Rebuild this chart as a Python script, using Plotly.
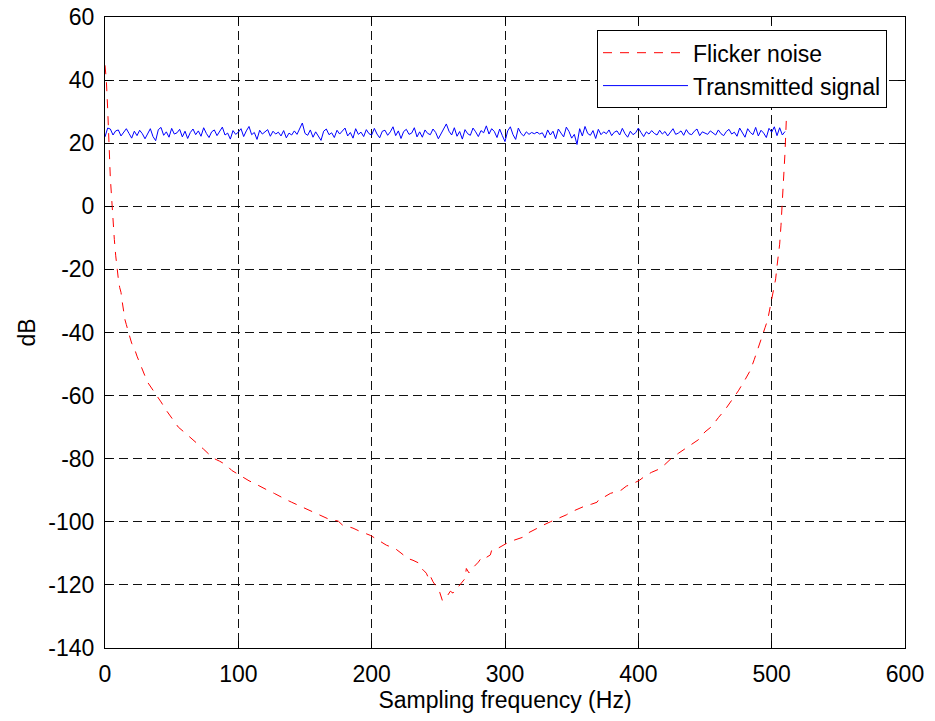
import plotly.graph_objects as go

# ---- Data ----
flicker_freq = [0, 1, 2, 3, 4, 5, 6, 7, 8, 9, 10, 11, 12, 13, 14, 15, 16, 17, 18, 20,
                22, 24, 26, 28, 30, 32, 35, 38, 42, 46, 50, 55, 60, 65, 70, 74, 78, 82, 86, 91,
                95, 100, 104, 108, 112, 117, 122, 127, 132, 136, 140, 145, 150, 154, 158, 162, 167, 171, 175, 178,
                182, 186, 190, 194, 199, 203, 207, 211, 214, 218, 222, 227, 231, 235, 237, 239, 241, 243, 244, 246,
                248, 251, 253, 255, 257, 259, 261, 263, 265, 268, 270, 271, 273, 274, 277, 280, 283, 286, 289, 290,
                293, 296, 299, 303, 307, 310, 314, 318, 321, 325, 329, 334, 338, 342, 346, 349, 353, 356, 361, 365,
                369, 371, 375, 379, 383, 387, 391, 396, 401, 405, 410, 415, 420, 425, 430, 435, 440, 445, 450, 455,
                460, 465, 470, 475, 480, 484, 487, 490, 493, 495, 497, 499, 500, 501, 502, 503, 504, 505, 506, 507,
                508, 509, 510, 511]
flicker_db = [44.7, 40, 31, 19, 9, 2.5, -5, -10.5, -15.5, -20, -23, -25.7, -27.3, -30.5, -34, -36, -37.5, -39.3, -40.5, -43.4,
              -45, -47.5, -49.8, -51.5, -53.8, -55.8, -57.6, -59.5, -62, -64.7, -67, -70, -71.8, -73.6, -75.6, -77, -78.6, -80, -80.8, -82,
              -83.7, -85, -86.2, -87, -87.8, -89, -90, -91, -92.2, -93, -93.8, -94.8, -95.6, -96.4, -97.2, -98, -99, -99.4, -99.8, -101,
              -101.4, -102, -102.8, -103.5, -104.3, -105.3, -106.4, -107.4, -107.9, -108.6, -109.9, -111.6, -112.2, -113, -114.8, -115.4, -116.3, -118.2, -117.2, -119,
              -120.2, -122.3, -124.9, -123.6, -123.3, -122, -122.6, -121, -120.6, -119.2, -118, -114.8, -116.2, -115.4, -114.2, -112.8, -111, -111.3, -110.5, -109,
              -108.8, -108, -107.2, -106.4, -105.8, -105.3, -104.8, -103.4, -102.7, -101.7, -101, -100, -99.3, -98.5, -97.8, -97, -96.3, -95.7, -94.8, -94.4,
              -93.8, -92.6, -92, -91, -90.5, -90, -88.7, -87.9, -86.8, -85.5, -84.3, -83.4, -81.8, -79.8, -78.3, -76.8, -75.3, -74, -71.5, -69.8,
              -67, -64.5, -61.5, -58.5, -55, -52, -48.5, -44.5, -41, -38.5, -36, -32, -29.5, -27.5, -25.5, -23, -19, -16, -12, -6,
              1, 9, 17, 27.5]

signal_freq = list(range(0, 512, 2))
signal_db = [
    22.0, 24.8, 24.5, 22.6, 23.9, 24.2, 22.3, 23.5, 24.6, 23.1, 21.6, 23.8, 22.4, 24.1, 23.0, 21.4,
    22.8, 24.6, 22.1, 20.8, 24.3, 25.0, 22.5, 23.6, 21.9, 24.7, 22.9, 23.3, 24.4, 22.0, 23.8, 21.5,
    23.4, 24.5, 22.7, 23.9, 22.2, 24.9, 23.1, 21.8, 23.6, 24.2, 22.4, 23.7, 25.1, 22.6, 23.2, 21.3,
    24.0, 22.8, 23.5, 24.6, 22.1, 23.9, 25.3, 22.7, 23.4, 21.2, 24.1, 22.9, 23.6, 24.3, 22.2, 23.8,
    22.9, 23.5, 22.3, 24.0, 21.7, 23.2, 22.6, 23.9, 22.8, 24.4, 26.4, 23.1, 22.5, 24.2, 21.9, 23.6,
    22.4, 20.9, 23.8, 24.5, 22.7, 23.3, 21.8, 24.1, 22.9, 23.7, 24.8, 22.3, 23.4, 21.6, 24.6, 22.8,
    23.5, 22.1, 24.3, 23.0, 22.6, 24.7, 22.9, 21.7, 23.8, 24.1, 22.5, 23.6, 25.2, 22.4, 23.9, 21.5,
    23.7, 24.4, 22.8, 23.2, 24.9, 22.0, 23.6, 21.9, 24.2, 23.1, 22.7, 24.5, 23.4, 21.4, 22.9, 24.6,
    26.1, 23.8, 22.6, 24.9, 22.2, 23.7, 21.3, 24.3, 23.0, 22.5, 24.8, 23.6, 22.1, 24.0, 23.3, 25.5,
    22.9, 24.6, 23.7, 21.8, 24.5, 22.4, 20.5, 23.9, 25.2, 22.7, 21.2, 24.8, 23.1, 22.3, 23.6, 22.8,
    23.4, 23.0, 23.5, 22.9, 23.3, 21.7, 24.2, 22.6, 23.8, 21.4, 24.5, 23.2, 22.0, 25.1, 23.7, 21.6,
    22.8, 19.6, 24.6, 22.3, 25.3, 23.1, 22.5, 24.0, 21.5, 24.4, 22.7, 23.6, 23.0, 24.2, 22.4, 23.5,
    23.9, 22.6, 24.7, 23.0, 21.9, 23.8, 22.7, 23.3, 24.8, 23.4, 22.1, 23.6, 22.9, 24.0, 23.1, 22.6,
    24.1, 22.9, 23.7, 22.3, 23.5, 24.6, 22.8, 23.2, 23.9, 22.5, 24.3, 23.0, 22.7, 23.8, 24.5, 22.4,
    23.6, 23.1, 22.8, 23.9, 23.3, 22.6, 24.2, 23.0, 22.4, 23.7, 24.4, 22.9, 23.5, 22.2, 24.8, 23.1,
    21.9, 24.6, 23.4, 22.7, 25.0, 22.3, 24.1, 23.2, 21.8, 24.7, 23.5, 25.2, 22.4, 24.9, 22.6, 23.7,
]

x_ticks = [0, 100, 200, 300, 400, 500, 600]
x_tick_labels = ["0", "100", "200", "300", "400", "500", "600"]
y_ticks = [-140, -120, -100, -80, -60, -40, -20, 0, 20, 40, 60]
y_tick_labels = ["-140", "-120", "-100", "-80", "-60", "-40", "-20", "0", "20", "40", "60"]

FONT = "Liberation Sans, Arial, sans-serif"
FS = 23

fig = go.Figure()
fig.add_trace(go.Scatter(
    x=flicker_freq, y=flicker_db, mode="lines", name="Flicker noise",
    line=dict(color="#ff0000", width=1, dash="9px,8px"),
))
fig.add_trace(go.Scatter(
    x=signal_freq, y=signal_db, mode="lines", name="Transmitted signal",
    line=dict(color="#0000ff", width=1),
))

axis_common = dict(
    showline=True, linecolor="black", linewidth=1, mirror="allticks",
    ticks="inside", ticklen=7, tickcolor="black", tickwidth=1,
    showgrid=True, gridcolor="#111111", gridwidth=1, griddash="9px,5px",
    zeroline=False,
    tickfont=dict(family=FONT, size=FS, color="black"),
    title_font=dict(family=FONT, size=FS, color="black"),
)

fig.update_xaxes(range=[0, 600], tickvals=x_ticks, ticktext=x_tick_labels, ticklabelstandoff=5,
                 title_text="Sampling frequency (Hz)", title_standoff=5, **axis_common)
fig.update_yaxes(range=[-140, 60], tickvals=y_ticks, ticktext=y_tick_labels, ticklabelstandoff=5,
                 title_text="dB", title_standoff=6, **axis_common)

fig.update_layout(
    width=935, height=721,
    margin=dict(l=105, r=30, t=17, b=73, autoexpand=False),
    paper_bgcolor="white", plot_bgcolor="white",
    font=dict(family=FONT, size=FS, color="black"),
    legend=dict(
        x=0.9775, y=0.979, xanchor="right", yanchor="top",
        bgcolor="white", bordercolor="black", borderwidth=1,
        font=dict(family=FONT, size=FS, color="black"),
        itemwidth=85, tracegroupgap=4,
    ),
    showlegend=True,
)

fig.write_html("out.html", include_plotlyjs=True, config={"displayModeBar": False})
